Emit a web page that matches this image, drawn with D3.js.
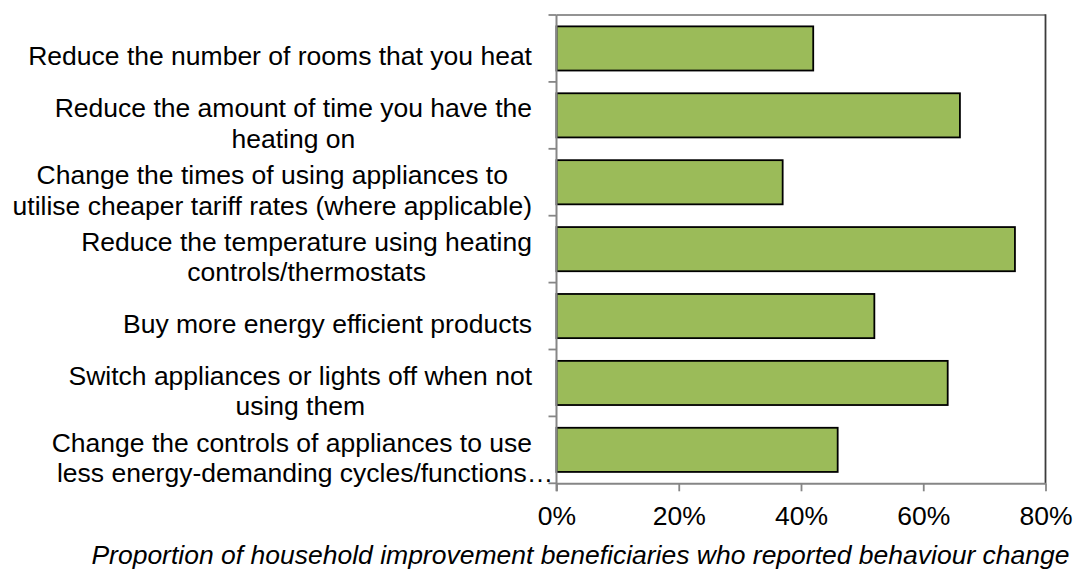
<!DOCTYPE html>
<html>
<head>
<meta charset="utf-8">
<script src="https://cdn.jsdelivr.net/npm/d3@7"></script>
<style>
  html, body { margin: 0; padding: 0; background: #fff; }
  svg { display: block; }
  text { font-family: "Liberation Sans", Arial, sans-serif; fill: #000; }
</style>
</head>
<body>
<svg id="chart" width="1075" height="570"></svg>
<script>
const categories = [
  "Reduce the number of rooms that you heat",
  "Reduce the amount of time you have the\nheating on",
  "Change the times of using appliances to\nutilise cheaper tariff rates (where applicable)",
  "Reduce the temperature using heating\ncontrols/thermostats",
  "Buy more energy efficient products",
  "Switch appliances or lights off when not\nusing them",
  "Change the controls of appliances to use\nless energy-demanding cycles/functions\u2026"
];
const values = [0.42, 0.66, 0.37, 0.75, 0.52, 0.64, 0.46];
const xTicks = [0, 0.2, 0.4, 0.6, 0.8];
const xTitle = "Proportion of household improvement beneficiaries who reported behaviour change";

(function () {
const svg = d3.select("#chart");
const pL = 556.5, pR = 1045.5, pT = 15, pB = 483.3;
const fontSize = 26.5, lineGap = 30.5, labelRight = 532;

const x = d3.scaleLinear().domain([0, 0.8]).range([pL, pR]);
const y = d3.scaleBand().domain(categories).range([pT, pB])
  .paddingInner(0.34).paddingOuter(0.17);

// plot area border: top (grey) and right (dark)
svg.append("line").attr("x1", pL).attr("x2", pR).attr("y1", pT).attr("y2", pT)
  .attr("stroke", "#6f6f6f").attr("stroke-width", 1.6);
svg.append("line").attr("x1", pR).attr("x2", pR).attr("y1", pT - 0.8).attr("y2", pB)
  .attr("stroke", "#3c3c3c").attr("stroke-width", 1.8);

// bars
svg.append("g").selectAll("rect").data(categories).join("rect")
  .attr("x", x(0))
  .attr("y", d => y(d))
  .attr("width", (d, i) => x(values[i]) - x(0))
  .attr("height", y.bandwidth())
  .attr("fill", "#9BBB59")
  .attr("stroke", "#000").attr("stroke-width", 1.8);

// bottom axis
const xAxis = d3.axisBottom(x).tickValues(xTicks).tickFormat(d3.format(".0%"))
  .tickSize(8).tickSizeOuter(0).tickPadding(10);
const gx = svg.append("g").attr("transform", `translate(0,${pB})`).call(xAxis);
gx.select(".domain").attr("stroke", "#868686").attr("stroke-width", 2);
gx.selectAll(".tick line").attr("stroke", "#868686").attr("stroke-width", 1.8);
gx.selectAll(".tick text")
  .attr("font-size", fontSize)
  .attr("font-family", "'Liberation Sans', Arial, sans-serif")
  .attr("fill", "#000")
  .attr("dy", null).attr("y", 0)
  .attr("transform", "translate(0,42)");

// left axis line + ticks at band boundaries
const boundaries = d3.range(categories.length + 1).map(i => pT + (pB - pT) * i / categories.length);
const gy = svg.append("g");
gy.append("line").attr("x1", pL).attr("x2", pL).attr("y1", pT).attr("y2", pB + 8)
  .attr("stroke", "#868686").attr("stroke-width", 2);
gy.selectAll("line.t").data(boundaries).join("line").attr("class", "t")
  .attr("x1", pL - 8).attr("x2", pL).attr("y1", d => d).attr("y2", d => d)
  .attr("stroke", "#868686").attr("stroke-width", 1.8);

// category labels
const lg = svg.append("g").attr("font-size", fontSize);
categories.forEach(cat => {
  const lines = cat.split("\n");
  const bc = y(cat) + y.bandwidth() / 2;
  const firstBase = bc + 17 - (lines.length - 1) * lineGap / 2;
  const widths = lines.map(l => {
    const t = lg.append("text").text(l.replace(/\u2026$/, ""));
    const w = t.node().getComputedTextLength();
    t.remove();
    return w;
  });
  const maxW = d3.max(widths);
  const center = labelRight - maxW / 2;
  lines.forEach((l, i) => {
    lg.append("text")
      .attr("x", center - widths[i] / 2)
      .attr("y", firstBase + i * lineGap)
      .attr("text-anchor", "start")
      .text(l);
  });
});

// x axis title
svg.append("text")
  .attr("x", 580.5).attr("y", 563.5)
  .attr("text-anchor", "middle")
  .attr("font-size", fontSize)
  .attr("font-style", "italic")
  .text(xTitle);
})();
</script>
</body>
</html>
